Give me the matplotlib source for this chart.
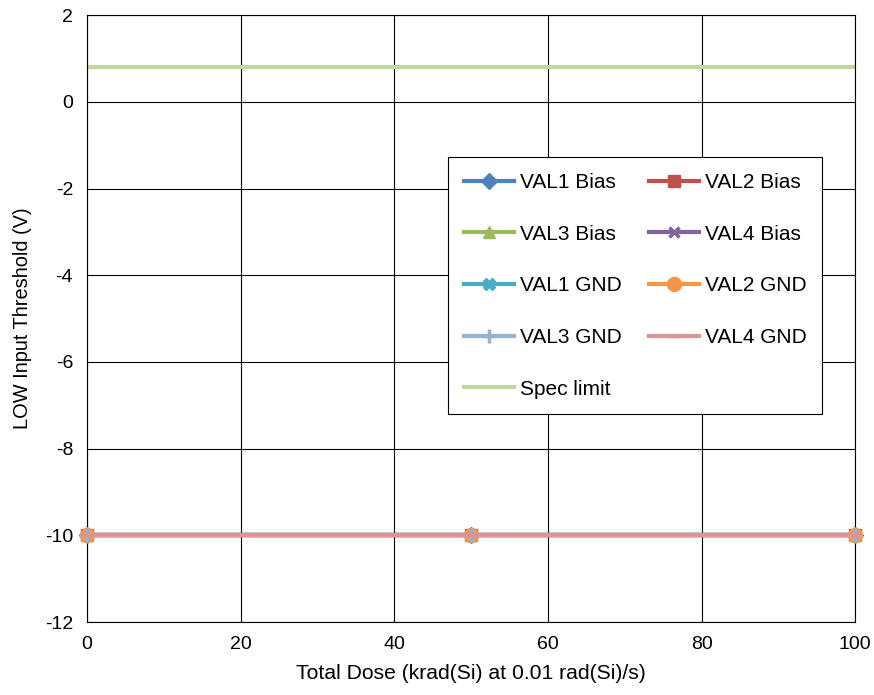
import numpy as np
import matplotlib.pyplot as plt

plt.rcParams['font.family'] = ['Liberation Sans', 'DejaVu Sans']
plt.rcParams['axes.unicode_minus'] = False

# data
dose = [0, 50, 100]
val1_bias = [-10, -10, -10]
val2_bias = [-10, -10, -10]
val3_bias = [-10, -10, -10]
val4_bias = [-10, -10, -10]
val1_gnd = [-10, -10, -10]
val2_gnd = [-10, -10, -10]
val3_gnd = [-10, -10, -10]
val4_gnd = [-10, -10, -10]
spec_x = [0, 100]
spec_limit = [0.8, 0.8]

series = [
    ('VAL1 Bias', val1_bias, '#4F81BD', 'D', 8),
    ('VAL2 Bias', val2_bias, '#C0504D', 's', 9),
    ('VAL3 Bias', val3_bias, '#9BBB59', '^', 9),
    ('VAL4 Bias', val4_bias, '#8064A2', 'x', 7),
    ('VAL1 GND', val1_gnd, '#4BACC6', 'X', 9),
    ('VAL2 GND', val2_gnd, '#F79646', 'o', 10),
    ('VAL3 GND', val3_gnd, '#95B3D7', '+', 10),
    ('VAL4 GND', val4_gnd, '#D99694', '_', 8),
]

fig = plt.figure(figsize=(8.74, 6.95), dpi=100)
ax = fig.add_axes([0.0995, 0.105, 0.879, 0.873])

handles = []
for name, vals, col, mk, ms in series:
    h, = ax.plot(dose, vals, color=col, marker=mk, markersize=ms, lw=3,
                 markeredgewidth=2.5 if mk in ('x', '+', '_') else 1,
                 markeredgecolor=col, label=name, clip_on=False, zorder=3)
    handles.append(h)
h, = ax.plot(spec_x, spec_limit, color='#C3D69B', lw=3, label='Spec limit')
handles.append(h)

ax.set_xlim(0, 100)
ax.set_ylim(-12, 2)
ax.set_xticks(np.arange(0, 101, 20))
ax.set_yticks(np.arange(-12, 3, 2))
ax.grid(True, color='black', lw=0.8)
ax.set_axisbelow(True)
ax.tick_params(length=0, labelsize=14, pad=10)
for s in ax.spines.values():
    s.set_color('black')
    s.set_linewidth(0.8)

ax.set_xlabel('Total Dose (krad(Si) at 0.01 rad(Si)/s)', fontsize=15.2, labelpad=8)
ax.set_ylabel('LOW Input Threshold (V)', fontsize=14.4, labelpad=9)

# matplotlib fills the legend column by column, so split the entries
col1 = [handles[0], handles[2], handles[4], handles[6], handles[8]]
col2 = [handles[1], handles[3], handles[5], handles[7]]
blank = plt.Line2D([], [], color='none')
leg = ax.legend(col1 + col2 + [blank], [h.get_label() for h in col1 + col2] + [''],
                ncol=2, loc='upper left', bbox_to_anchor=(0.470, 0.766),
                fontsize=15, frameon=True, fancybox=False, edgecolor='black',
                framealpha=1, labelspacing=1.57, handlelength=2.4,
                handletextpad=0.3, columnspacing=1.3, borderpad=0.75,
                borderaxespad=0)
leg.get_frame().set_linewidth(0.8)

fig.savefig('out.png', dpi=100)
